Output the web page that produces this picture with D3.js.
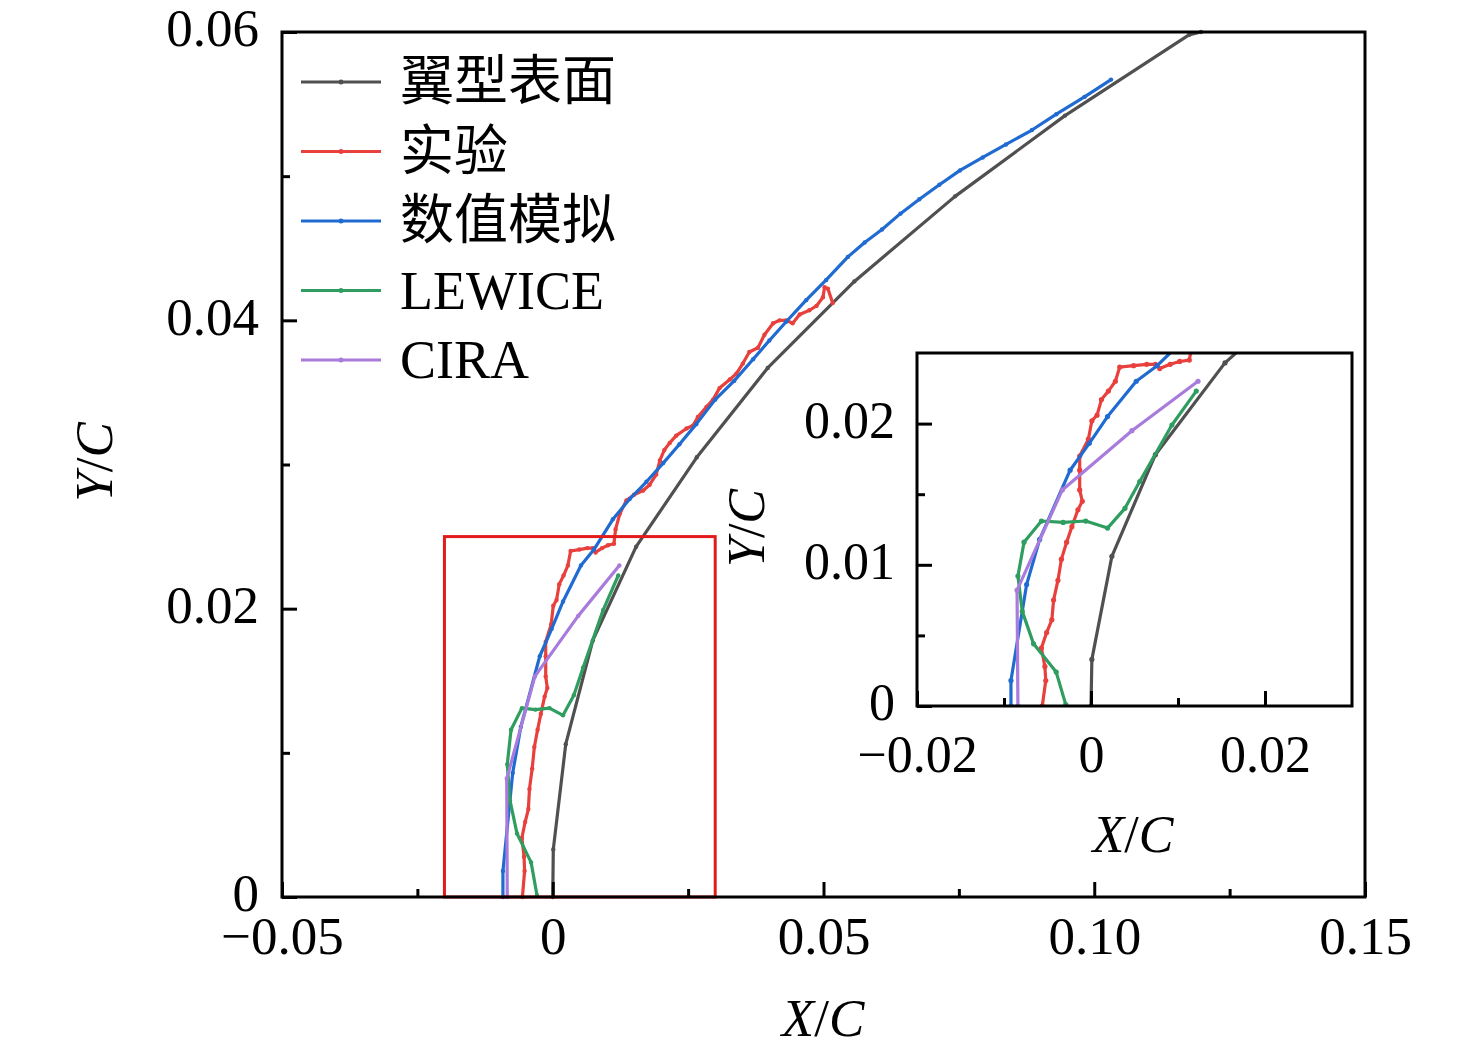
<!DOCTYPE html>
<html>
<head>
<meta charset="utf-8">
<script src="https://d3js.org/d3.v7.min.js"></script>
<style>
  html, body { margin: 0; padding: 0; background: #fff; }
  svg text { font-family: "Liberation Serif", "Times New Roman", "Noto Sans CJK SC", serif; fill: #000; }
</style>
</head>
<body>
<div id="chart"></div>
<script>
// Leading-edge ice shape data (X/C, Y/C)

const seriesNames = ['翼型表面', '实验', '数值模拟', 'LEWICE', 'CIRA'];
const seriesColors = ['#505050', '#e8403c', '#1f6bd1', '#2e9d5f', '#a87bdc'];

const airfoil = [
  [0, 0], [0.0001, 0.0033], [0.0024, 0.0106], [0.0074, 0.0178], [0.0154, 0.0243],
  [0.0266, 0.0305], [0.0397, 0.0367], [0.0557, 0.0427], [0.0743, 0.0486],
  [0.0946, 0.0542], [0.1175, 0.0598], [0.1197, 0.0600]
];

const experiment = [
  [-0.0056, 0], [-0.0052, 0.0018], [-0.0053, 0.0028], [-0.0057, 0.0041], [-0.0051, 0.0052],
  [-0.0045, 0.0061], [-0.0043, 0.0075], [-0.0038, 0.0089], [-0.0034, 0.0104], [-0.0028, 0.0116],
  [-0.0022, 0.0127], [-0.0015, 0.0139], [-0.0010, 0.0145], [-0.0013, 0.0153], [-0.0013, 0.0167],
  [-0.0013, 0.0177], [-0.0003, 0.0189], [0.0001, 0.0202], [0.0007, 0.0206], [0.0012, 0.0217],
  [0.0020, 0.0223], [0.0028, 0.0230], [0.0033, 0.0240], [0.0049, 0.0241], [0.0064, 0.0242],
  [0.0074, 0.0242], [0.0079, 0.0239], [0.0091, 0.0242], [0.0102, 0.0244], [0.0113, 0.0245],
  [0.0116, 0.0255], [0.0124, 0.0266], [0.0136, 0.0275], [0.0150, 0.0279], [0.0167, 0.0282],
  [0.0179, 0.0286], [0.0191, 0.0293], [0.0198, 0.0303], [0.0206, 0.0310], [0.0216, 0.0315],
  [0.0228, 0.0320], [0.0247, 0.0325], [0.0259, 0.0327], [0.0268, 0.0333], [0.0284, 0.0340],
  [0.0296, 0.0345], [0.0308, 0.0353], [0.0327, 0.0359], [0.0339, 0.0363], [0.0351, 0.0370],
  [0.0363, 0.0378], [0.0379, 0.0381], [0.0391, 0.0390], [0.0407, 0.0398], [0.0419, 0.0400],
  [0.0431, 0.0400], [0.0443, 0.0398], [0.0456, 0.0404], [0.0474, 0.0407], [0.0487, 0.0410],
  [0.0499, 0.0416], [0.0502, 0.0423], [0.0508, 0.0422], [0.0517, 0.0412]
];

const simulation = [
  [-0.0092, 0], [-0.0092, 0.0018], [-0.0074, 0.0086], [-0.0059, 0.0118], [-0.0024, 0.0167],
  [-0.0002, 0.0186], [0.0019, 0.0205], [0.0052, 0.0230], [0.0076, 0.0241], [0.0111, 0.0262],
  [0.0142, 0.0276], [0.0173, 0.0288], [0.0204, 0.0301], [0.0234, 0.0314], [0.0265, 0.0328],
  [0.0300, 0.0345], [0.0335, 0.0358], [0.0370, 0.0373], [0.0400, 0.0386], [0.0431, 0.0399],
  [0.0468, 0.0414], [0.0505, 0.0428], [0.0545, 0.0444], [0.0576, 0.0454], [0.0608, 0.0463],
  [0.0642, 0.0474], [0.0677, 0.0484], [0.0714, 0.0494], [0.0752, 0.0504], [0.0794, 0.0513],
  [0.0837, 0.0522], [0.0885, 0.0532], [0.0930, 0.0543], [0.0982, 0.0555], [0.1031, 0.0567]
];

const lewice = [
  [-0.0029, 0.0001], [-0.0040, 0.0024], [-0.0066, 0.0044], [-0.0079, 0.0067], [-0.0084, 0.0092],
  [-0.0077, 0.0116], [-0.0057, 0.0131], [-0.0032, 0.0130], [-0.0006, 0.0131], [0.0019, 0.0126],
  [0.0039, 0.0140], [0.0056, 0.0159], [0.0093, 0.0199], [0.0121, 0.0223]
];

const cira = [
  [-0.0084, 0], [-0.0085, 0.0082], [-0.0033, 0.0153], [0.0047, 0.0195], [0.0123, 0.0230]
];

const allSeries = [airfoil, experiment, simulation, lewice, cira];

// tick values / labels
const mainXTicks = [-0.05, 0, 0.05, 0.10, 0.15];
const mainXLabels = ['\u22120.05', '0', '0.05', '0.10', '0.15'];
const mainXMinor = [-0.025, 0.025, 0.075, 0.125];
const mainYTicks = [0, 0.02, 0.04, 0.06];
const mainYLabels = ['0', '0.02', '0.04', '0.06'];
const mainYMinor = [0.01, 0.03, 0.05];

const insetXTicks = [-0.02, 0, 0.02];
const insetXLabels = ['\u22120.02', '0', '0.02'];
const insetXMinor = [-0.01, 0.01];
const insetYTicks = [0, 0.01, 0.02];
const insetYLabels = ['0', '0.01', '0.02'];
const insetYMinor = [0.005, 0.015];

const zoomBox = { x0: -0.02, x1: 0.03, y0: 0, y1: 0.025 };

const W = 1476, H = 1057;

const svg = d3.select('#chart').append('svg')
  .attr('width', W)
  .attr('height', H);

// scales
const x = d3.scaleLinear().domain([-0.05, 0.15]).range([282, 1365]);
const y = d3.scaleLinear().domain([0, 0.06]).range([897, 32]);
const xi = d3.scaleLinear().domain([zoomBox.x0, zoomBox.x1]).range([917, 1352]);
const yi = d3.scaleLinear().domain([zoomBox.y0, zoomBox.y1]).range([706, 353]);

function drawSeries(g, sx, sy, r) {
  const line = d3.line().x(d => sx(d[0])).y(d => sy(d[1]));
  allSeries.forEach((data, i) => {
    g.append('path')
      .datum(data)
      .attr('d', line)
      .attr('fill', 'none')
      .attr('stroke', seriesColors[i])
      .attr('stroke-width', 3.2)
      .attr('stroke-linejoin', 'round');
    g.selectAll(null)
      .data(data)
      .enter()
      .append('circle')
      .attr('cx', d => sx(d[0]))
      .attr('cy', d => sy(d[1]))
      .attr('r', r)
      .attr('fill', seriesColors[i]);
  });
}

function drawAxes(g, sx, sy, opt) {
  // x axis (ticks inward)
  const xa = g.append('g')
    .attr('transform', `translate(0,${sy.range()[0]})`)
    .call(d3.axisBottom(sx).tickValues(opt.xTicks).tickSize(-opt.major).tickPadding(opt.xPad)
      .tickFormat((d, i) => opt.xLabels[i]));
  xa.append('g').call(d3.axisBottom(sx).tickValues(opt.xMinor).tickSize(-opt.minor).tickFormat(''));
  const ya = g.append('g')
    .attr('transform', `translate(${sx.range()[0]},0)`)
    .call(d3.axisLeft(sy).tickValues(opt.yTicks).tickSize(-opt.major).tickPadding(opt.yPad)
      .tickFormat((d, i) => opt.yLabels[i]));
  ya.append('g').call(d3.axisLeft(sy).tickValues(opt.yMinor).tickSize(-opt.minor).tickFormat(''));
  ya.selectAll('.tick text').attr('dy', '0.26em');
  g.selectAll('.domain').remove();
  g.selectAll('.tick line').attr('stroke', '#000').attr('stroke-width', 3);
  g.selectAll('.tick text')
    .style('font-family', '"Liberation Serif", "Times New Roman", serif')
    .style('font-size', opt.fontSize + 'px')
    .attr('fill', '#000');
  // frame
  g.append('rect')
    .attr('x', sx.range()[0])
    .attr('y', sy.range()[1])
    .attr('width', sx.range()[1] - sx.range()[0])
    .attr('height', sy.range()[0] - sy.range()[1])
    .attr('fill', 'none')
    .attr('stroke', '#000')
    .attr('stroke-width', 3);
}

function axisTitle(g, tx, ty, rotate, size, letter) {
  const t = g.append('text')
    .attr('transform', `translate(${tx},${ty}) rotate(${rotate})`)
    .attr('text-anchor', 'middle')
    .style('font-size', size + 'px');
  t.append('tspan').style('font-style', 'italic').text(letter);
  t.append('tspan').text('/');
  t.append('tspan').style('font-style', 'italic').text('C');
}

// ---------- main plot ----------
const main = svg.append('g');
drawSeries(main, x, y, 2.2);

// zoom rectangle
main.append('rect')
  .attr('x', x(zoomBox.x0))
  .attr('y', y(zoomBox.y1))
  .attr('width', x(zoomBox.x1) - x(zoomBox.x0))
  .attr('height', y(zoomBox.y0) - y(zoomBox.y1))
  .attr('fill', 'none')
  .attr('stroke', '#e31b1b')
  .attr('stroke-width', 3);

drawAxes(main, x, y, {
  xTicks: mainXTicks, xLabels: mainXLabels, xMinor: mainXMinor,
  yTicks: mainYTicks, yLabels: mainYLabels, yMinor: mainYMinor,
  major: 15, minor: 8, xPad: 19, yPad: 23, fontSize: 53
});

axisTitle(main, 823, 1036, 0, 53, 'X');
axisTitle(main, 112, 462, -90, 53, 'Y');

// legend
const legend = main.append('g');
seriesNames.forEach((name, i) => {
  const ly = 82 + i * 69.5;
  legend.append('line')
    .attr('x1', 301).attr('x2', 381)
    .attr('y1', ly).attr('y2', ly)
    .attr('stroke', seriesColors[i])
    .attr('stroke-width', 3);
  legend.append('circle')
    .attr('cx', 341).attr('cy', ly).attr('r', 2.5)
    .attr('fill', seriesColors[i]);
  legend.append('text')
    .attr('x', 400)
    .attr('y', ly + 18)
    .style('font-size', '54px')
    .text(name);
});

// ---------- inset ----------
const inset = svg.append('g');
inset.append('rect')
  .attr('x', xi.range()[0]).attr('y', yi.range()[1])
  .attr('width', xi.range()[1] - xi.range()[0])
  .attr('height', yi.range()[0] - yi.range()[1])
  .attr('fill', '#fff');

svg.append('defs').append('clipPath')
  .attr('id', 'inset-clip')
  .append('rect')
  .attr('x', xi.range()[0]).attr('y', yi.range()[1])
  .attr('width', xi.range()[1] - xi.range()[0])
  .attr('height', yi.range()[0] - yi.range()[1]);

const insetPlot = inset.append('g').attr('clip-path', 'url(#inset-clip)');
drawSeries(insetPlot, xi, yi, 2.6);

drawAxes(inset, xi, yi, {
  xTicks: insetXTicks, xLabels: insetXLabels, xMinor: insetXMinor,
  yTicks: insetYTicks, yLabels: insetYLabels, yMinor: insetYMinor,
  major: 15, minor: 8, xPad: 29, yPad: 22, fontSize: 52
});

axisTitle(inset, 1133, 852, 0, 52, 'X');
axisTitle(inset, 764, 528, -90, 52, 'Y');
</script>
</body>
</html>
